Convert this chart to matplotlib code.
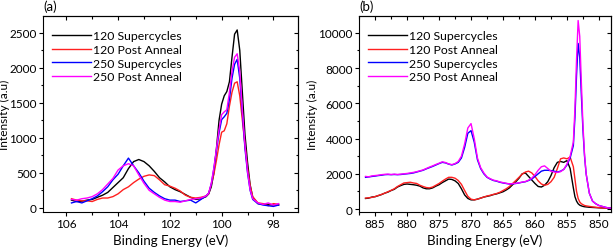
import matplotlib
matplotlib.use("Agg")
import matplotlib.pyplot as plt
from matplotlib.ticker import MultipleLocator

plt.rcParams['font.family'] = ['Lato', 'DejaVu Sans']

labels = ["120 Supercycles", "120 Post Anneal", "250 Supercycles", "250 Post Anneal"]
colors = ["#000000", "#ff2020", "#0000ff", "#ff00ff"]

# ---- Panel (a): Si 2p region ----
xa = [105.8, 105.6, 105.4, 105.2, 105.0, 104.8, 104.6, 104.4, 104.2, 104.0,
      103.8, 103.6, 103.4, 103.2, 103.0, 102.8, 102.6, 102.4, 102.2, 102.0,
      101.8, 101.6, 101.4, 101.2, 101.0, 100.8, 100.6,
      100.5, 100.4, 100.3, 100.2, 100.1, 100.0, 99.9, 99.8, 99.7, 99.6,
      99.5, 99.4, 99.3, 99.2, 99.1, 99.0, 98.9, 98.8,
      98.6, 98.4, 98.2, 98.0, 97.8]

a_120_sc = [110, 90, 95, 110, 120, 150, 180, 220, 290, 360,
            430, 560, 660, 690, 660, 600, 520, 430, 370, 300,
            260, 230, 190, 150, 120, 130, 160,
            200, 300, 500, 850, 1250, 1480, 1600, 1660, 1800, 2150,
            2480, 2540, 2250, 1650, 1050, 650, 330, 150,
            60, 50, 50, 40, 40]
a_120_pa = [130, 110, 100, 100, 90, 120, 140, 140, 160, 200,
            260, 300, 360, 410, 450, 470, 460, 400, 330, 310,
            280, 240, 180, 150, 140, 150, 170,
            200, 330, 480, 680, 900, 1080, 1100, 1200, 1450, 1650,
            1780, 1800, 1600, 1250, 900, 560, 320, 160,
            70, 60, 30, 60, 50]
a_250_sc = [70, 90, 70, 100, 130, 170, 230, 300, 400, 480,
            600, 710, 600, 500, 380, 280, 220, 170, 130, 110,
            110, 90, 100, 110, 70, 120, 170,
            210, 340, 560, 820, 1070, 1260, 1300, 1350, 1550, 1850,
            2050, 2120, 1850, 1350, 850, 500, 250, 120,
            60, 40, 30, 20, 40]
a_250_pa = [120, 110, 130, 140, 160, 200, 260, 340, 420, 540,
            600, 630, 600, 470, 350, 250, 200, 150, 110, 90,
            90, 80, 100, 120, 130, 140, 170,
            210, 350, 570, 850, 1120, 1330, 1370, 1400, 1650, 1950,
            2150, 2200, 1950, 1400, 900, 520, 260, 130,
            70, 50, 70, 40, 60]

# ---- Panel (b): Ni 2p region ----
xb = [886.5, 886.0, 885.5, 885.0, 884.5, 884.0, 883.5, 883.0, 882.5, 882.0,
      881.5, 881.0, 880.5, 880.0, 879.5, 879.0, 878.5, 878.0, 877.5, 877.0,
      876.5, 876.0, 875.5, 875.0, 874.5, 874.0, 873.5, 873.0, 872.5, 872.0,
      871.5, 871.0, 870.5, 870.0, 869.5, 869.0, 868.5, 868.0, 867.5, 867.0,
      866.5, 866.0, 865.5, 865.0, 864.5, 864.0, 863.5, 863.0, 862.5, 862.0,
      861.5, 861.0, 860.5, 860.0, 859.5, 859.0, 858.5, 858.0, 857.5, 857.0,
      856.5, 856.0, 855.5, 855.0, 854.5, 854.0,
      853.75, 853.5, 853.25, 853.0, 852.75, 852.5, 852.25, 852.0,
      851.5, 851.0, 850.5, 850.0, 849.5, 849.0, 848.5, 848.0]

b_120_sc = [600, 620, 680, 700, 760, 820, 900, 960, 1050, 1120,
            1250, 1330, 1400, 1420, 1400, 1380, 1350, 1300, 1200, 1150,
            1150, 1200, 1300, 1380, 1500, 1600, 1700, 1680, 1600, 1450,
            1150, 800, 600, 520, 520, 560, 620, 680, 720, 760,
            820, 860, 920, 980, 1080, 1200, 1380, 1550, 1750, 2000,
            2050, 1850, 1650, 1450, 1280, 1250, 1350, 1550, 1900, 2350,
            2650, 2700, 2650, 2750, 2300, 1200,
            700, 450, 300, 220, 180, 150, 130, 120,
            100, 90, 80, 70, 60, 50, 40, 40]
b_120_pa = [620, 640, 660, 710, 770, 830, 900, 980, 1060, 1150,
            1280, 1380, 1480, 1500, 1520, 1480, 1450, 1350, 1280, 1220,
            1200, 1250, 1350, 1450, 1580, 1700, 1800, 1800, 1750, 1620,
            1400, 1050, 720, 560, 520, 560, 620, 680, 740, 780,
            830, 880, 950, 1050, 1150, 1280, 1450, 1620, 1800, 1980,
            2100, 2150, 2050, 1850, 1600, 1420, 1350, 1400, 1550, 1800,
            2300, 2850, 2900, 2850, 2950, 2400,
            1700, 1000, 600, 400, 300, 250, 200, 180,
            150, 120, 100, 80, 60, 50, 50, 40]
b_250_sc = [1800, 1820, 1850, 1870, 1900, 1920, 1950, 1960, 1950, 1960,
            1950, 1960, 1980, 2000, 2020, 2050, 2100, 2150, 2200, 2280,
            2350, 2420, 2500, 2580, 2650, 2620, 2550, 2500, 2560, 2650,
            2900, 3500, 4300, 4450, 3800, 2800, 2300, 2000, 1800, 1700,
            1620, 1580, 1520, 1480, 1450, 1420, 1430, 1450, 1480, 1520,
            1550, 1620, 1700, 1850, 2000, 2150, 2200, 2200, 2180, 2150,
            2100, 2150, 2250, 2500, 2900, 3600,
            5200, 7600, 9400, 8600, 6500, 4500, 3000, 2000,
            900, 450, 300, 200, 150, 100, 60, 50]
b_250_pa = [1850, 1830, 1880, 1900, 1920, 1950, 1970, 1980, 1960, 1980,
            1960, 1980, 2000, 2020, 2050, 2080, 2120, 2170, 2220, 2300,
            2380, 2450, 2530, 2600, 2680, 2640, 2560, 2520, 2580, 2700,
            3000, 3700, 4600, 4850, 4000, 2900, 2350, 2050, 1820, 1720,
            1640, 1600, 1540, 1500, 1460, 1430, 1440, 1460, 1490, 1530,
            1560, 1640, 1750, 1950, 2200, 2400, 2450, 2300, 2150, 2100,
            2080, 2120, 2250, 2550, 3000, 3800,
            5700, 8500, 10700, 9800, 7200, 4800, 3100, 2000,
            900, 450, 300, 200, 150, 100, 60, 50]

fig = plt.figure(figsize=(6.16, 2.53), dpi=100)
axa = fig.add_axes([0.0698, 0.158, 0.414, 0.775])
axb = fig.add_axes([0.583, 0.158, 0.409, 0.775])

panels = [
    (axa, xa, [a_120_sc, a_120_pa, a_250_sc, a_250_pa], (106.9, 97.05), (-60, 2740), 2, 1, 500, 250, -0.128),
    (axb, xb, [b_120_sc, b_120_pa, b_250_sc, b_250_pa], (887.5, 848.1), (-170, 10960), 5, 2.5, 2000, 1000, -0.162),
]

for ax, x, series, xl, yl, mjx, mnx, mjy, mny, ylx in panels:
    for y, c, lab in zip(series, colors, labels):
        ax.plot(x, y, color=c, lw=1.0, label=lab)
    ax.legend(loc='upper left', frameon=False, fontsize=8.8,
              handlelength=3.2, handletextpad=0.2, labelspacing=0.22,
              borderaxespad=0.3, bbox_to_anchor=(0.0, 0.97))
    ax.set_xlim(*xl)
    ax.set_ylim(*yl)
    ax.set_xlabel("Binding Energy (eV)", fontsize=9.6, labelpad=3)
    ax.set_ylabel("Intensity (a.u)", fontsize=8.6)
    ax.yaxis.set_label_coords(ylx, 0.5)
    ax.tick_params(axis='both', which='both', labelsize=8.5, width=0.8, pad=1.5)
    ax.tick_params(which='major', length=3)
    ax.tick_params(which='minor', length=1.8)
    ax.tick_params(axis='x', which='both', direction='out', top=False)
    ax.tick_params(axis='y', which='both', direction='out', right=False)
    ax.xaxis.set_major_locator(MultipleLocator(mjx))
    ax.xaxis.set_minor_locator(MultipleLocator(mnx))
    ax.yaxis.set_major_locator(MultipleLocator(mjy))
    ax.yaxis.set_minor_locator(MultipleLocator(mny))
    sx = ax.secondary_xaxis('top')
    sy = ax.secondary_yaxis('right')
    sx.xaxis.set_major_locator(MultipleLocator(mjx))
    sx.xaxis.set_minor_locator(MultipleLocator(mnx))
    sy.yaxis.set_major_locator(MultipleLocator(mjy))
    sy.yaxis.set_minor_locator(MultipleLocator(mny))
    for s in (sx, sy):
        s.tick_params(direction='in', which='both', width=0.8,
                      labeltop=False, labelright=False, labelbottom=False, labelleft=False)
        s.tick_params(which='major', length=3)
        s.tick_params(which='minor', length=1.8)
        for sp in s.spines.values():
            sp.set_linewidth(0.8)
    for sp in ax.spines.values():
        sp.set_linewidth(0.8)

axa.text(0.0, 1.02, "(a)", transform=axa.transAxes, fontsize=9.5, va='bottom', ha='left')
axb.text(0.0, 1.02, "(b)", transform=axb.transAxes, fontsize=9.5, va='bottom', ha='left')

fig.savefig("out.png", dpi=100)
